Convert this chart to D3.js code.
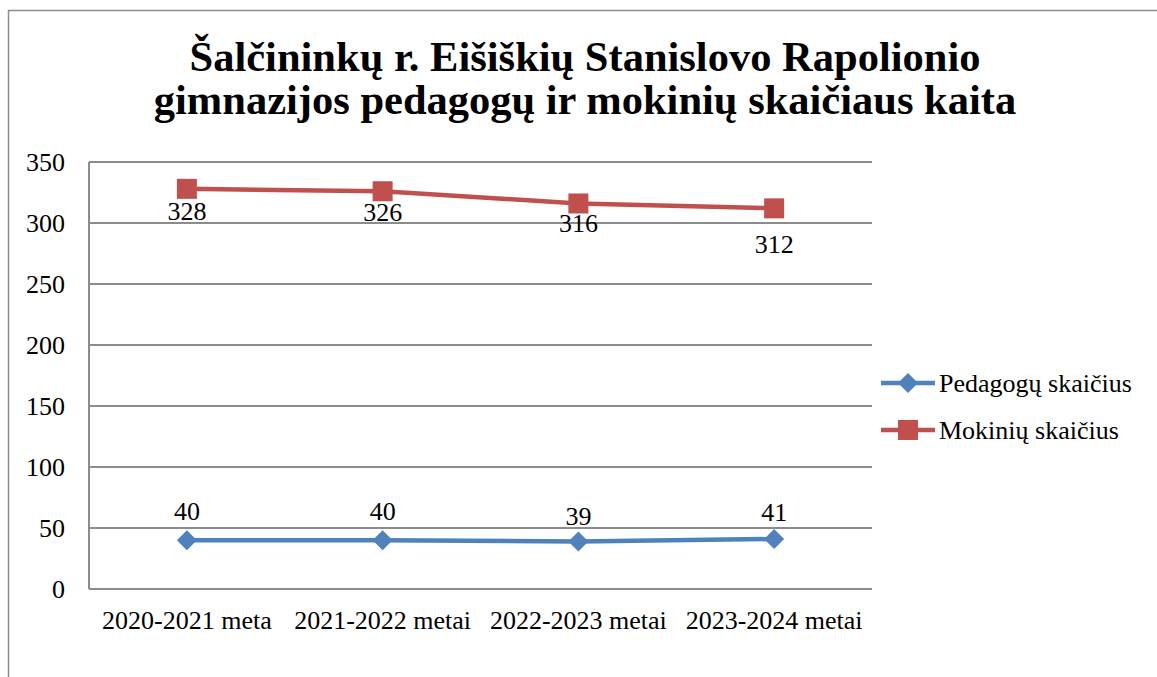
<!DOCTYPE html>
<html>
<head>
<meta charset="utf-8">
<script src="https://cdn.jsdelivr.net/npm/d3@7"></script>
<style>
  body { margin: 0; background: #fff; }
  svg { display: block; }
</style>
</head>
<body>
<svg id="chart"></svg>
<script>
const titleLines = ['Šalčininkų r. Eišiškių Stanislovo Rapolionio', 'gimnazijos pedagogų ir mokinių skaičiaus kaita']
const categories = ['2020-2021 meta', '2021-2022 metai', '2022-2023 metai', '2023-2024 metai']
const pedagogai = [40, 40, 39, 41]
const mokiniai = [328, 326, 316, 312]
const yTicks = [0, 50, 100, 150, 200, 250, 300, 350]

// label offsets (px from the point), as Excel placed them
const series = [
    { name: 'Pedagogų skaičius', values: pedagogai, color: '#4F81BD', marker: 'diamond', labelDy: [-20, -20, -16, -18] },
    { name: 'Mokinių skaičius', values: mokiniai, color: '#C0504D', marker: 'square', labelDy: [31, 30, 29, 45] }
]

const width = 1157, height = 677
const margin = { left: 89, right: 872, top: 162, bottom: 589 }
const FONT = 'Liberation Serif'

let svg = d3.select('#chart')
    .attr('width', width)
    .attr('height', height)

// outer frame (extends past the picture on right/bottom)
svg.append('rect')
    .attr('x', 8.5).attr('y', 10.5)
    .attr('width', 1200).attr('height', 800)
    .attr('fill', 'none')
    .attr('stroke', '#8c8c8c')
    .attr('stroke-width', 1.5)

// title
svg.append('text')
    .attr('font-family', FONT)
    .attr('text-anchor', 'middle')
    .attr('font-size', 42.5)
    .attr('font-weight', 'bold')
    .selectAll('tspan').data(titleLines)
    .enter().append('tspan')
    .attr('x', 585)
    .attr('y', (d, i) => 71 + i * 43)
    .text(d => d)

let x = d3.scaleBand()
    .domain(categories)
    .range([margin.left, margin.right])

let y = d3.scaleLinear()
    .domain([0, 350])
    .range([margin.bottom, margin.top])

// gridlines
svg.append('g').selectAll('line').data(yTicks)
    .enter().append('line')
    .attr('x1', margin.left).attr('x2', margin.right)
    .attr('y1', d => y(d)).attr('y2', d => y(d))
    .attr('stroke', '#8c8c8c')
    .attr('stroke-width', 2)

// left axis line
svg.append('line')
    .attr('x1', margin.left).attr('x2', margin.left)
    .attr('y1', margin.top).attr('y2', margin.bottom)
    .attr('stroke', '#8c8c8c')
    .attr('stroke-width', 2)

// y tick labels
svg.append('g').selectAll('text').data(yTicks)
    .enter().append('text')
    .attr('font-family', FONT)
    .attr('x', 65)
    .attr('y', d => y(d) + 9)
    .attr('text-anchor', 'end')
    .attr('font-size', 26)
    .text(d => d)

// x labels
svg.append('g').selectAll('text').data(categories)
    .enter().append('text')
    .attr('font-family', FONT)
    .attr('x', d => x(d) + x.bandwidth() / 2)
    .attr('y', 629)
    .attr('text-anchor', 'middle')
    .attr('font-size', 26)
    .text(d => d)

const cx = (i) => x(categories[i]) + x.bandwidth() / 2

const drawMarker = (sel, type, color) => {
    if (type === 'square') {
        sel.append('rect')
            .attr('x', -10).attr('y', -10)
            .attr('width', 20).attr('height', 20)
            .attr('fill', color)
    } else {
        sel.append('path')
            .attr('d', 'M0,-10L10,0L0,10L-10,0Z')
            .attr('fill', color)
    }
}

let line = d3.line()
    .x((d, i) => cx(i))
    .y(d => y(d))

series.forEach(s => {
    let g = svg.append('g')
    g.append('path')
        .datum(s.values)
        .attr('d', line)
        .attr('fill', 'none')
        .attr('stroke', s.color)
        .attr('stroke-width', 4.5)
    s.values.forEach((v, i) => {
        let m = g.append('g').attr('transform', 'translate(' + cx(i) + ',' + y(v) + ')')
        drawMarker(m, s.marker, s.color)
        g.append('text')
            .attr('font-family', FONT)
            .attr('x', cx(i))
            .attr('y', y(v) + s.labelDy[i])
            .attr('text-anchor', 'middle')
            .attr('font-size', 26)
            .text(v)
    })
})

// legend
let legend = svg.append('g')
series.forEach((s, i) => {
    let ly = 383 + i * 47
    legend.append('line')
        .attr('x1', 881).attr('x2', 935)
        .attr('y1', ly).attr('y2', ly)
        .attr('stroke', s.color)
        .attr('stroke-width', 4.5)
    let m = legend.append('g').attr('transform', 'translate(908,' + ly + ')')
    drawMarker(m, s.marker, s.color)
    legend.append('text')
        .attr('font-family', FONT)
        .attr('x', 939)
        .attr('y', ly + 9)
        .attr('font-size', 26)
        .text(s.name)
})
</script>
</body>
</html>
